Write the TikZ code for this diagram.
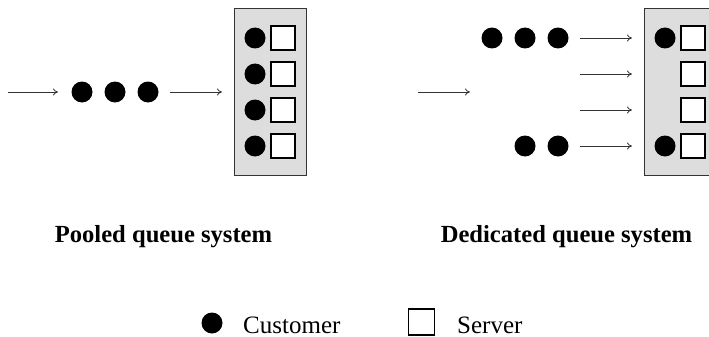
\documentclass[tikz,border=0pt]{standalone}
\usepackage{fontspec}
\setmainfont{Liberation Serif}
\usetikzlibrary{arrows.meta}
\definecolor{boxgray}{HTML}{DDDDDD}
\definecolor{arrgray}{HTML}{333333}
\tikzset{
  cust/.style={circle, fill=black, minimum size=21pt, inner sep=0pt},
  serv/.style={rectangle, draw=black, line width=1.6pt, fill=white, minimum size=24pt, inner sep=0pt},
  panel/.style={rectangle, draw=arrgray, line width=0.8pt, fill=boxgray, minimum width=72pt, minimum height=167pt, inner sep=0pt},
  arr/.style={draw=arrgray, line width=0.8pt, -{To[length=5pt,width=7pt]}},
  title/.style={font=\fontsize{24.6}{28}\selectfont\bfseries, anchor=base, inner sep=0pt},
  legend/.style={font=\fontsize{25}{28}\selectfont, anchor=base west, inner sep=0pt}
}
\begin{document}
\begin{tikzpicture}[x=1pt,y=-1pt]
\clip (0,0) rectangle (709,337);
% ---------- Pooled ----------
\node[panel] (boxL) at (270,91.5) {};
\foreach \i/\y in {1/38,2/74,3/110,4/146}{
  \node[cust] (lc\i) at (255,\y) {};
  \node[serv] (ls\i) at (283,\y) {};
}
\coordinate (la0) at (8,92);
\coordinate (la1) at (58,92);
\node[cust] (q1) at (82,92) {};
\node[cust] (q2) at (115,92) {};
\node[cust] (q3) at (148,92) {};
\coordinate (la2) at (170,92);
\coordinate (la3) at (222,92);
\draw[arr] (la0) -- (la1);
\draw[arr] (la2) -- (la3);
\node[title] (tL) at (163.5,242) {Pooled queue system};
% ---------- Dedicated ----------
\node[panel] (boxR) at (680,91.5) {};
\foreach \i/\y in {1/38,2/74,3/110,4/146}{
  \node[serv] (rs\i) at (693,\y) {};
  \coordinate (ra\i s) at (580,\y);
  \coordinate (ra\i e) at (632,\y);
  \draw[arr] (ra\i s) -- (ra\i e);
}
\node[cust] (rc1) at (665,38) {};
\node[cust] (rc4) at (665,146) {};
\node[cust] (d1) at (492,38) {};
\node[cust] (d2) at (525,38) {};
\node[cust] (d3) at (558,38) {};
\node[cust] (e1) at (525,146) {};
\node[cust] (e2) at (558,146) {};
\coordinate (rin0) at (418,92);
\coordinate (rin1) at (470,92);
\draw[arr] (rin0) -- (rin1);
\node[title] (tR) at (566.5,242) {Dedicated queue system};
% ---------- Legend ----------
\node[cust] (legc) at (212,323) {};
\node[legend] (legct) at (243,333) {Customer};
\node[serv, line width=1.2pt, minimum size=26pt, fill=none] (legs) at (421.5,322) {};
\node[legend] (legst) at (457,333) {Server};
\end{tikzpicture}
\end{document}
